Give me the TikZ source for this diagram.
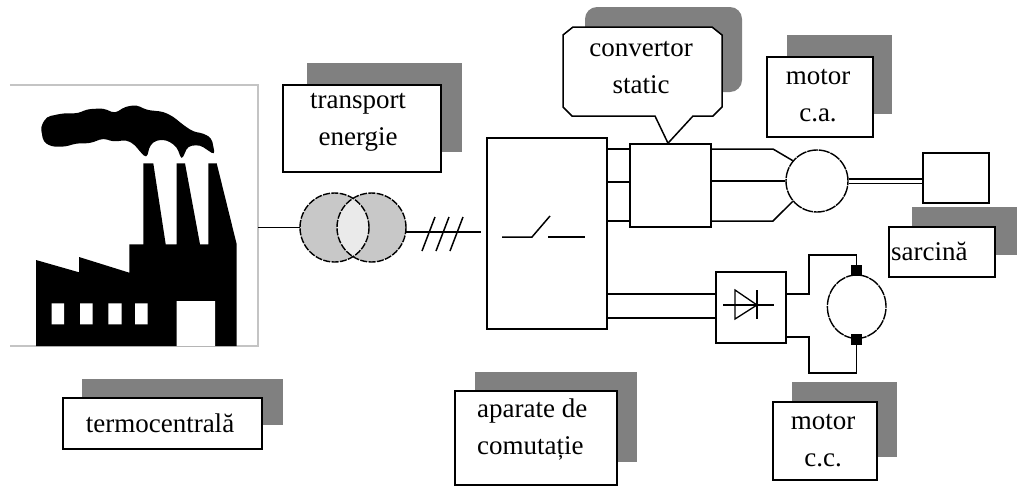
\documentclass[tikz,border=0pt]{standalone}
\usepackage{fontspec}
\setmainfont{Liberation Serif}
\usetikzlibrary{calc,shapes.geometric}
\definecolor{shadowgray}{RGB}{128,128,128}
\definecolor{framecol}{RGB}{196,196,196}
\definecolor{coil}{RGB}{200,200,200}
\definecolor{lens}{RGB}{234,234,234}

\begin{document}
\begin{tikzpicture}[x=1pt,y=-1pt,
  wire/.style={line width=1.5pt},
  block/.style={rectangle, draw, line width=1.6pt, fill=white, inner sep=0pt},
  labelbox/.style={rectangle, draw, line width=1.6pt, fill=white, inner sep=0pt},
  shadowbox/.style={rectangle, fill=shadowgray, draw=none, inner sep=0pt},
  lbl/.style={font=\fontsize{27}{37}\selectfont, inner sep=0pt},
  dashcirc/.style={draw, line width=1.4pt, dash pattern=on 11pt off 0.9pt, inner sep=0pt},
  brush/.style={rectangle, fill=black, minimum width=11pt, minimum height=11pt, inner sep=0pt},
]
\useasboundingbox (0,0) rectangle (1018,490);

% ---------- power plant ----------
\node[minimum width=248pt, minimum height=261pt, inner sep=0pt] (plant) at (134,215.5) {};
\draw[framecol, line width=1.5pt] (plant.north west) -- (plant.north east)
  -- (plant.south east) -- (plant.south west);
% smoke
\fill[black, rounded corners=4pt] (40.7,126.7) -- (46.7,116.7) -- (63.3,113.3) -- (78.3,113.3)
  -- (86.7,109.3) -- (103.3,108.3) -- (115,113.3) -- (125,106.7) -- (136.7,105)
  -- (146.7,110) -- (163.3,111.7) -- (173.3,116.7) -- (183.3,125) -- (193.3,131.7)
  -- (203.3,133.3) -- (211.7,138.3) -- (215,155) -- (200,145) -- (188,146)
  -- (181.7,160) -- (176.7,146.7) -- (166.7,140) -- (156.7,140) -- (150,145)
  -- (146.7,158.3) -- (140,151.7) -- (135,145) -- (126.7,140) -- (113.3,141.7)
  -- (103.3,138.3) -- (90,143.3) -- (76.7,143.3) -- (65,146.7) -- (51.7,146.7)
  -- (43.3,141.7) -- cycle;
% buildings and chimneys
\fill[black] (36,346) -- (36,260) -- (79,272.3) -- (79,257) -- (129.3,272.7)
  -- (129.3,244.3) -- (143.3,244.3) -- (143.3,163.3) -- (153.3,163.3)
  -- (165.7,244.3) -- (176.7,244.3) -- (176.7,163.3) -- (185,163.3)
  -- (200,244.3) -- (208.3,244.3) -- (208.3,163.3) -- (216.7,163.3)
  -- (236.7,244.3) -- (236.7,346) -- cycle;
\fill[white] (51.7,303.3) rectangle (64,324.3)
  (80,303.3) rectangle (92.7,324.3)
  (108.3,303.3) rectangle (121.7,324.3)
  (135,303.3) rectangle (147.7,324.3)
  (176.7,301) rectangle (215,346);

% ---------- transformer ----------
\node[circle, minimum size=69pt, inner sep=0pt] (tr1) at (334.5,227.5) {};
\node[circle, minimum size=69pt, inner sep=0pt] (tr2) at (371.5,227.5) {};
\fill[coil] (tr1.center) circle[radius=34.5pt] (tr2.center) circle[radius=34.5pt];
\begin{scope}
  \clip (tr1.center) circle[radius=34.5pt];
  \fill[lens] (tr2.center) circle[radius=34.5pt];
\end{scope}
\draw[line width=1.4pt, dash pattern=on 7pt off 1.4pt]
  (tr1.center) circle[radius=34.5pt] (tr2.center) circle[radius=34.5pt];

% ---------- switching block ----------
\node[block, minimum width=120pt, minimum height=191pt] (sw) at (547,233.5) {};
\draw[wire] (502,237) -- (532,237) -- (550,216);
\draw[wire] (548,237) -- (585,237);

\draw[wire] (plant.east |- tr1.west) -- (tr1.west);
\coordinate (busend) at (481,232);
\draw[wire] ([yshift=-4.5pt]tr2.east) -- (busend);
\foreach \sx in {422,436,450}
  \draw[wire] (\sx,251) -- ++(13,-34);

% ---------- static converter ----------
\node[block, minimum width=81pt, minimum height=83pt] (conv) at (670.5,185.5) {};
\foreach \by in {149,182,221}
  \draw[wire] (sw.east |- 0,\by) -- (conv.west |- 0,\by);

% ---------- AC motor and load ----------
\node[circle, dashcirc, fill=white, minimum size=62pt] (mac) at (817,181) {};
\node[block, minimum width=66pt, minimum height=50pt] (load) at (956,178) {};
\draw[wire] (conv.east |- 0,149) -- (773,149) -- (mac.140);
\draw[wire] (conv.east |- mac.west) -- (mac.west);
\draw[wire] (conv.east |- 0,221) -- (773,221) -- (mac.220);
\draw[line width=1.3pt, double, double distance=3pt] (mac.east) -- (load.west |- mac.east);

% ---------- rectifier and DC motor ----------
\node[block, minimum width=70pt, minimum height=71pt] (rect) at (751,307.5) {};
\foreach \by in {294,318}
  \draw[wire] (sw.east |- 0,\by) -- (rect.west |- 0,\by);
\draw[line width=1.3pt] (723,305) -- (774,305);
\draw[line width=1.3pt] (735,290) -- (735,319) -- (757,305) -- cycle;
\draw[line width=1.3pt] (757,290) -- (757,319);

\node[ellipse, dashcirc, fill=white, minimum width=58.6pt, minimum height=63.4pt] (mdc) at (856.7,306.7) {};
\node[brush] (bt) at (856.5,270.5) {};
\node[brush] (bb) at (856.5,339) {};
\draw[wire] (rect.east |- 0,294) -- (809,294) -- (809,255) -- (bt.north |- 0,255) -- (bt.north);
\draw[wire] (rect.east |- 0,337) -- (809,337) -- (809,373) -- (bb.south |- 0,373) -- (bb.south);

% ---------- converter callout ----------
\fill[shadowgray, rounded corners=12pt] (585,7) rectangle (742,92);
\draw[wire, fill=white] (573,27) -- (712,27) -- (722,35) -- (722,107) -- (713,116)
  -- (693,116) -- ([xshift=-2.5pt]conv.north) -- (655,116) -- (572,116) -- (563,107)
  -- (563,35) -- cycle;
\node[lbl, align=center] (convtxt) at (641,67.5) {convertor\\static};

% ---------- labels ----------
\node[shadowbox, minimum width=201pt, minimum height=46pt] (termosh) at (182.5,402) {};
\node[labelbox, minimum width=199pt, minimum height=51pt] (termo) at (162.5,423.5) {};
\node[lbl] (termotxt) at (160,423) {termocentrală};

\node[shadowbox, minimum width=155pt, minimum height=89pt] (transsh) at (384.5,107.5) {};
\node[labelbox, minimum width=158pt, minimum height=87pt] (trans) at (362,128.5) {};
\node[lbl, align=center] (transtxt) at (358,122) {transport\\energie};

\node[shadowbox, minimum width=162pt, minimum height=90pt] (apsh) at (556,417) {};
\node[labelbox, minimum width=162pt, minimum height=94pt] (ap) at (536,438) {};
\node[lbl, align=left, anchor=west] (aptxt) at (477,430) {aparate de\\comutație};

\node[shadowbox, minimum width=105pt, minimum height=79pt] (macsh) at (839.5,74.5) {};
\node[labelbox, minimum width=106pt, minimum height=80pt] (macbox) at (820,97) {};
\node[lbl, align=center] (mactxt) at (818,95.5) {motor\\c.a.};

\node[shadowbox, minimum width=105pt, minimum height=75pt] (mdcsh) at (844.5,419.5) {};
\node[labelbox, minimum width=104pt, minimum height=78pt] (mdcbox) at (825,441) {};
\node[lbl, align=center] (mdctxt) at (823,440.5) {motor\\c.c.};

\node[shadowbox, minimum width=105pt, minimum height=48pt] (sarsh) at (964.5,231) {};
\node[labelbox, minimum width=106pt, minimum height=50pt] (sar) at (942,252) {};
\node[lbl, anchor=west] (sartxt) at (891,251) {sarcină};
\end{tikzpicture}
\end{document}
